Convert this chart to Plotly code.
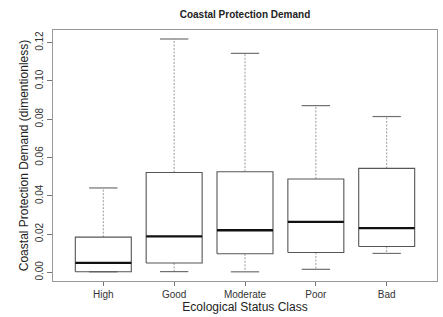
import plotly.graph_objects as go

categories = ["High", "Good", "Moderate", "Poor", "Bad"]
lower_whisker = [0.0003, 0.0004, 0.0003, 0.0016, 0.0099]
q1_values = [0.0003, 0.0049, 0.0097, 0.0104, 0.0135]
median_values = [0.0050, 0.0188, 0.0220, 0.0264, 0.0231]
q3_values = [0.0184, 0.0522, 0.0526, 0.0488, 0.0543]
upper_whisker = [0.0441, 0.1219, 0.1144, 0.0871, 0.0814]
y_tick_values = [0.00, 0.02, 0.04, 0.06, 0.08, 0.10, 0.12]

half_box = 0.395
half_cap = 0.2
positions = list(range(1, len(categories) + 1))

box_x, box_y = [], []
med_x, med_y = [], []
wh_x, wh_y = [], []
cap_x, cap_y = [], []
for p, lo, a, m, b, hi in zip(positions, lower_whisker, q1_values, median_values, q3_values, upper_whisker):
    box_x += [p - half_box, p + half_box, p + half_box, p - half_box, p - half_box, None]
    box_y += [a, a, b, b, a, None]
    med_x += [p - half_box, p + half_box, None]
    med_y += [m, m, None]
    wh_x += [p, p, None, p, p, None]
    wh_y += [b, hi, None, a, lo, None]
    cap_x += [p - half_cap, p + half_cap, None, p - half_cap, p + half_cap, None]
    cap_y += [hi, hi, None, lo, lo, None]

fig = go.Figure()
fig.add_trace(go.Scatter(x=wh_x, y=wh_y, mode="lines",
                         line=dict(color="#9a9a9a", width=1, dash="2px,1.5px"), hoverinfo="skip"))
fig.add_trace(go.Scatter(x=cap_x, y=cap_y, mode="lines",
                         line=dict(color="#707070", width=1.2), hoverinfo="skip"))
fig.add_trace(go.Scatter(x=box_x, y=box_y, mode="lines",
                         line=dict(color="#555555", width=1.1), hoverinfo="skip"))
fig.add_trace(go.Scatter(x=med_x, y=med_y, mode="lines",
                         line=dict(color="#111111", width=2.3), hoverinfo="skip"))

font_family = "Liberation Sans, Arial, sans-serif"
fig.update_layout(
    width=443, height=317,
    margin=dict(l=53, r=6, t=30, b=36, autoexpand=False),
    paper_bgcolor="white", plot_bgcolor="white",
    showlegend=False,
    font=dict(family=font_family, size=10, color="#333333"),
    title=dict(text="<b>Coastal Protection Demand</b>", x=0.553, xanchor="center",
               y=0.953, yanchor="middle", font=dict(size=10, color="#222222")),
    xaxis=dict(range=[0.29, 5.71], tickvals=positions, ticktext=categories,
               showgrid=False, zeroline=False, showline=True, mirror=True,
               linecolor="#999999", linewidth=1, ticks="outside", ticklen=4,
               tickcolor="#777777", automargin=False,
               title=dict(text="Ecological Status Class", font=dict(size=12, color="#222222"),
                          standoff=0)),
    yaxis=dict(range=[-0.0045, 0.1266], tickvals=y_tick_values,
               ticktext=[f"{v:.2f}" for v in y_tick_values], tickangle=-90,
               showgrid=False, zeroline=False, showline=True, mirror=True,
               linecolor="#999999", linewidth=1, ticks="outside", ticklen=5,
               tickcolor="#777777", automargin=False,
               title=dict(text="Coastal Protection Demand (dimentionless)",
                          font=dict(size=12, color="#222222"), standoff=2)),
)

fig.write_html("out.html", config={"displayModeBar": False},
               post_script="document.body.style.margin='0';")
